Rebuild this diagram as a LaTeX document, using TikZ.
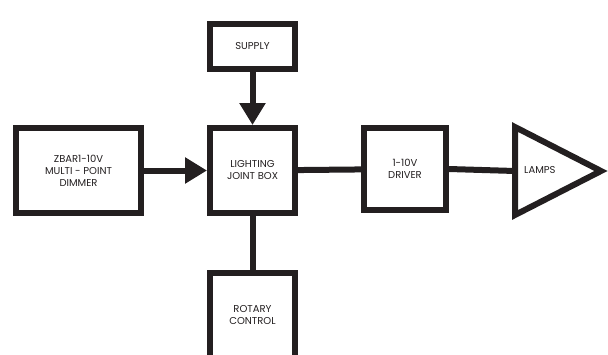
\documentclass[tikz,border=0pt]{standalone}
\usepackage{fontspec}
\setmainfont{Poppins}
\usetikzlibrary{arrows.meta}
\definecolor{ink}{RGB}{35,31,32}
\begin{document}
\begin{tikzpicture}[x=1pt,y=-1pt,
  blockbox/.style={draw=ink,line width=6pt,outer sep=3pt,inner sep=0pt,align=center,
    font=\fontsize{10}{12}\selectfont,text=ink},
  link/.style={draw=ink,line width=6pt},
  feed/.style={link,-{Triangle[length=22pt,width=25pt]}}]
\useasboundingbox (0,0) rectangle (608,354);
\clip (0,0) rectangle (608,354);

\node[blockbox,minimum width=85pt,minimum height=45pt] (S) at (252.5,46.5) {SUPPLY}; % Supply
\node[blockbox,minimum width=125pt,minimum height=85pt] (D) at (78.5,170.5) {ZBAR1-10V\\MULTI - POINT\\DIMMER}; % Dimmer
\node[blockbox,minimum width=85pt,minimum height=85pt] (L) at (252.5,170.5) {LIGHTING\\JOINT BOX}; % Joint box
\node[blockbox,minimum width=82pt,minimum height=82pt] (V) at (405,169) {1-10V\\DRIVER}; % Driver
\node[blockbox,minimum width=85pt,minimum height=92pt] (R) at (252.5,319) {ROTARY\\CONTROL\\[-4pt]}; % Rotary, cut off at bottom

% lamps triangle corners
\coordinate (T1) at (515,127); % top
\coordinate (T2) at (515,215); % bottom
\coordinate (T3) at (601,171); % tip
\coordinate (T0) at (515,171); % middle of left side
\draw[link,line join=miter] (T1) -- (T3) -- (T2) -- cycle;
\node[font=\fontsize{10}{12}\selectfont,text=ink,anchor=west,inner sep=0pt] (P) at (524,170.5) {LAMPS};

%arrows into the joint box
\draw[feed] (S) -- (L);
\draw[feed] (D) -- (L);

%plain connections
\draw[link] (L) -- (V);
\draw[link] (V.east) -- (T0);
\draw[link] (L) -- (R);
\end{tikzpicture}
\end{document}
